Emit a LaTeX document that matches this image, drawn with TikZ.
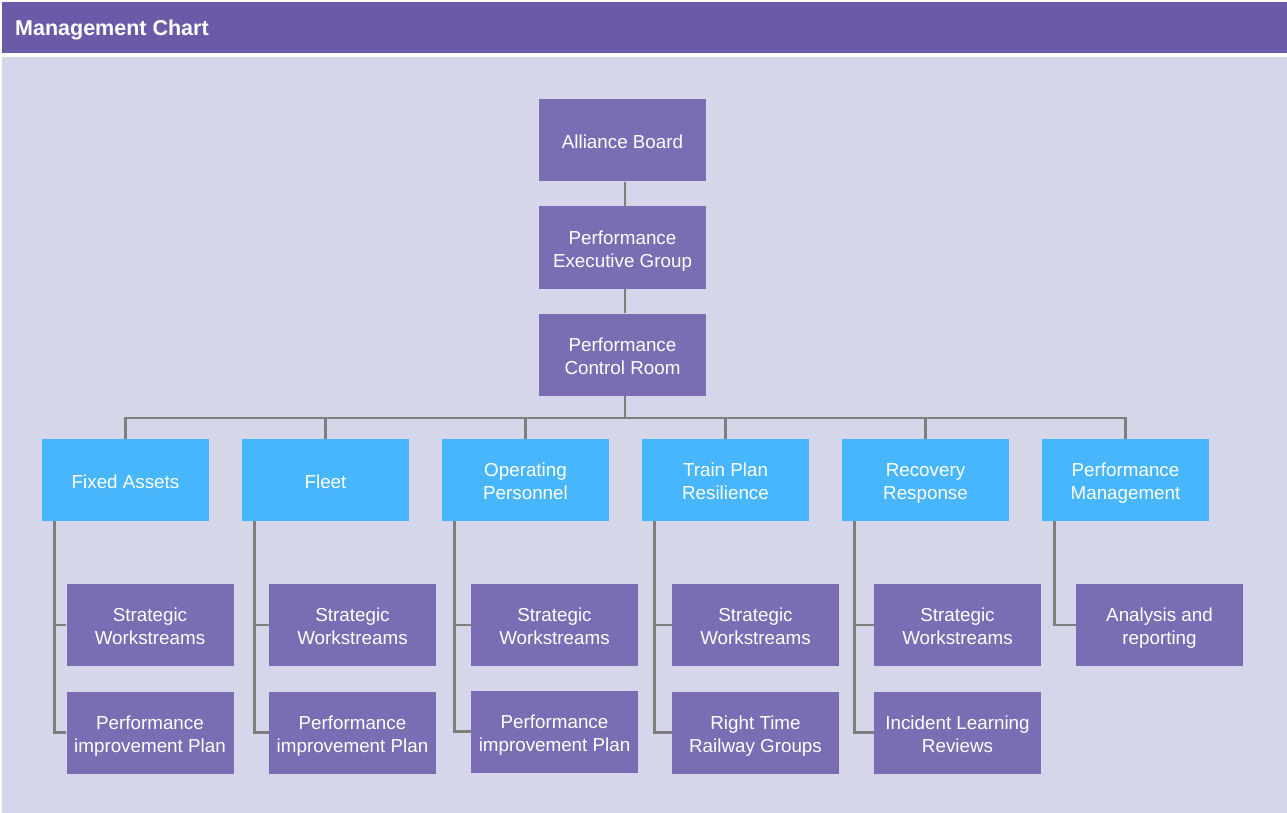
\documentclass[tikz,border=0pt]{standalone}
\usepackage{fontspec}
\setmainfont{Liberation Sans}
\definecolor{hdr}{HTML}{6A5AA8}
\definecolor{pagebg}{HTML}{D6D6EB}
\definecolor{boxp}{HTML}{7B6DB4}
\definecolor{boxb}{HTML}{48B6FC}
\definecolor{wire}{HTML}{7F7F7F}
\tikzset{
  unit/.style={rectangle, draw=none, text=white, align=center,
    minimum width=167pt, minimum height=82pt, inner sep=2pt,
    font=\fontsize{18.8}{23}\selectfont},
  % invisible rules that fix the vertical room taken by one or two lines
  oneline/.style={unit, execute at begin node={\rule{0pt}{21pt}},
    execute at end node={\rule[-4pt]{0pt}{4pt}}},
  twoline/.style={unit, execute at begin node={\rule{0pt}{43pt}},
    execute at end node={\rule[-4pt]{0pt}{4pt}}},
  mgmt/.style={twoline, fill=boxp},
  area/.style={twoline, fill=boxb},
  mgmtone/.style={oneline, fill=boxp},
  areaone/.style={oneline, fill=boxb},
  wirestyle/.style={draw=wire, line width=2.4pt}
}
\begin{document}
\begin{tikzpicture}[x=1pt, y=-1pt]
  % canvas and panels
  \useasboundingbox (0,0) rectangle (1287,813);
  \fill[white] (0,0) rectangle (1287,813);
  \fill[hdr] (2,2) rectangle (1287,53);
  \fill[pagebg] (2,57) rectangle (1287,813);
  \node[anchor=base west, text=white, font=\fontsize{21.5}{25}\selectfont\bfseries, inner sep=0pt]
    (title) at (15,36) {Management Chart};

  % governance chain
  \node[mgmtone] (board) at (622.5,140.5) {Alliance Board};
  \node[mgmt] (peg) at (622.5,247.5) {Performance\\Executive Group};
  \node[mgmt] (pcr) at (622.5,354.5) {Performance\\Control Room};

  % functional areas
  \node[areaone] (fa) at (125.5,480) {Fixed Assets};
  \node[areaone] (fl) at (325.5,480) {Fleet};
  \node[area] (op) at (525.5,480) {Operating\\Personnel};
  \node[area] (tp) at (725.5,480) {Train Plan\\Resilience};
  \node[area] (rr) at (925.5,480) {Recovery\\Response};
  \node[area] (pm) at (1125.5,480) {Performance\\Management};

  % workstreams under each area
  \node[mgmt] (fa1) at (150,625) {Strategic\\Workstreams};
  \node[mgmt] (fa2) at (150,732.5) {Performance\\improvement Plan};
  \node[mgmt] (fl1) at (352.5,625) {Strategic\\Workstreams};
  \node[mgmt] (fl2) at (352.5,732.5) {Performance\\improvement Plan};
  \node[mgmt] (op1) at (554.5,625) {Strategic\\Workstreams};
  \node[mgmt] (op2) at (554.5,731.5) {Performance\\improvement Plan};
  \node[mgmt] (tp1) at (755.5,625) {Strategic\\Workstreams};
  \node[mgmt] (tp2) at (755.5,732.5) {Right Time\\Railway Groups};
  \node[mgmt] (rr1) at (957.5,625) {Strategic\\Workstreams};
  \node[mgmt] (rr2) at (957.5,732.5) {Incident Learning\\Reviews};
  \node[mgmt] (pm1) at (1159.5,625) {Analysis and\\reporting};

  % connectors
  \coordinate (bus) at (625,418);
  \begin{scope}[wirestyle]
    \draw ([xshift=2.5pt]board.south) -- ([xshift=2.5pt]peg.north);
    \draw ([xshift=2.5pt]peg.south) -- ([xshift=2.5pt]pcr.north);
    \draw ([xshift=2.5pt]pcr.south) -- (bus);
    \foreach \a in {fa,fl,op,tp,rr,pm}
      \draw (\a.north) |- (bus);
    \foreach \a/\k in {fa/1,fa/2,fl/1,fl/2,op/1,op/2,tp/1,tp/2,rr/1,rr/2,pm/1}
      \draw ([xshift=12.5pt]\a.south west) |- (\a\k.west);
  \end{scope}
\end{tikzpicture}
\end{document}
